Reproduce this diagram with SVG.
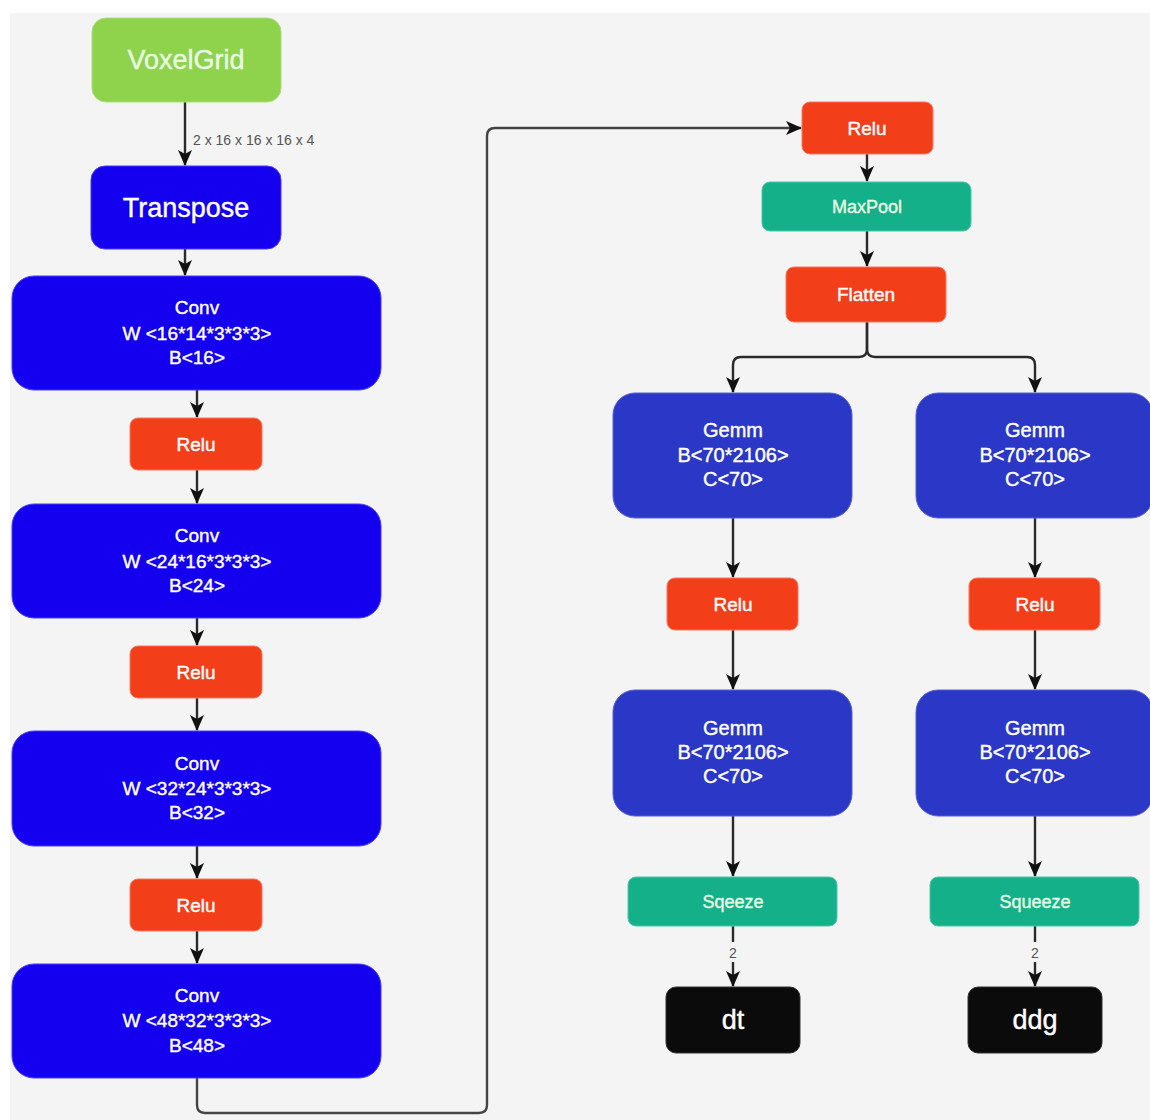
<svg xmlns="http://www.w3.org/2000/svg" width="1150" height="1120" viewBox="0 0 1150 1120">
<defs>
<marker id="arr" viewBox="0 0 16 16" refX="15" refY="8" markerWidth="16" markerHeight="16" markerUnits="userSpaceOnUse" orient="auto">
<path d="M0,1 L16,8 L0,15 L4,8 Z" fill="#111"/>
</marker>
<style>
.bg{fill:#f4f4f4}
.edge{fill:none;stroke:#2a2a2a;stroke-width:2.4;marker-end:url(#arr)}
.t{font-family:"Liberation Sans",Arial,sans-serif;fill:#fff;stroke:#fff;stroke-width:0.4;text-anchor:middle}
.big{font-size:27px}
.mid{font-size:19px}
.green{fill:#8fd24c;stroke:#a9e07a;stroke-width:1}
.blue{fill:#1400ef;stroke:#4a3cf5;stroke-width:1}
.gemm{fill:#2b37c6;stroke:#5560d6;stroke-width:1}
.red{fill:#f23e19;stroke:#f7775e;stroke-width:1}
.teal{fill:#13b08a;stroke:#4fc7a8;stroke-width:1}
.black{fill:#0b0b0b;stroke:#333;stroke-width:1}
.pale{fill:#e9fbe3;stroke:#e9fbe3}
.lbl{font-family:"Liberation Sans",Arial,sans-serif;font-size:14px;fill:#555}
</style>
</defs>
<rect width="1150" height="1120" fill="#ffffff"/>
<rect class="bg" x="10" y="13" width="1140" height="1107"/>

<g id="connectors">
<path class="edge" d="M185,102 V165"/>
<text class="lbl" x="193" y="145">2 x 16 x 16 x 16 x 4</text>
<path class="edge" d="M185,249 V275"/>
<path class="edge" d="M197,390 V417"/>
<path class="edge" d="M197,470 V503"/>
<path class="edge" d="M197,618 V645"/>
<path class="edge" d="M197,698 V730"/>
<path class="edge" d="M197,846 V878"/>
<path class="edge" d="M197,931 V963"/>
<path class="edge" style="stroke:#444" d="M197,1078 V1105 Q197,1113 205,1113 H479 Q487,1113 487,1105 V136 Q487,128 495,128 H801"/>
<path class="edge" d="M867,154 V181"/>
<path class="edge" d="M867,231 V266"/>
<path class="edge" d="M867,322 V349 Q867,357 859,357 H741 Q733,357 733,365 V392"/>
<path class="edge" d="M867,322 V349 Q867,357 875,357 H1027 Q1035,357 1035,365 V392"/>
<path class="edge" d="M733,518 V577"/>
<path class="edge" d="M1035,518 V577"/>
<path class="edge" d="M733,630 V689"/>
<path class="edge" d="M1035,630 V689"/>
<path class="edge" d="M733,816 V876"/>
<path class="edge" d="M1035,816 V876"/>
<path class="edge" d="M733,926 V986"/>
<path class="edge" d="M1035,926 V986"/>
<rect x="726" y="942" width="14" height="20" fill="#f4f4f4"/>
<rect x="1028" y="942" width="14" height="20" fill="#f4f4f4"/>
<text class="lbl" x="733" y="958" text-anchor="middle">2</text>
<text class="lbl" x="1035" y="958" text-anchor="middle">2</text>
</g>

<g id="voxelgrid"><rect class="green" x="92" y="18" width="189" height="84" rx="14"/><text class="t big pale" x="186" y="69">VoxelGrid</text></g>
<g id="transpose"><rect class="blue" x="91" y="166" width="190" height="83" rx="14"/><text class="t big" x="186" y="217">Transpose</text></g>

<g id="conv1"><rect class="blue" x="12" y="276" width="369" height="114" rx="22"/>
<text class="t mid" x="197" y="314">Conv</text><text class="t mid" x="197" y="340">W &lt;16*14*3*3*3&gt;</text><text class="t mid" x="197" y="364">B&lt;16&gt;</text></g>
<g id="relu1"><rect class="red" x="130" y="418" width="132" height="52" rx="8"/><text class="t mid" x="196" y="451">Relu</text></g>

<g id="conv2"><rect class="blue" x="12" y="504" width="369" height="114" rx="22"/>
<text class="t mid" x="197" y="542">Conv</text><text class="t mid" x="197" y="568">W &lt;24*16*3*3*3&gt;</text><text class="t mid" x="197" y="592">B&lt;24&gt;</text></g>
<g id="relu2"><rect class="red" x="130" y="646" width="132" height="52" rx="8"/><text class="t mid" x="196" y="679">Relu</text></g>

<g id="conv3"><rect class="blue" x="12" y="731" width="369" height="115" rx="22"/>
<text class="t mid" x="197" y="770">Conv</text><text class="t mid" x="197" y="795">W &lt;32*24*3*3*3&gt;</text><text class="t mid" x="197" y="819">B&lt;32&gt;</text></g>
<g id="relu3"><rect class="red" x="130" y="879" width="132" height="52" rx="8"/><text class="t mid" x="196" y="912">Relu</text></g>

<g id="conv4"><rect class="blue" x="12" y="964" width="369" height="114" rx="22"/>
<text class="t mid" x="197" y="1002">Conv</text><text class="t mid" x="197" y="1027">W &lt;48*32*3*3*3&gt;</text><text class="t mid" x="197" y="1052">B&lt;48&gt;</text></g>

<g id="relu4"><rect class="red" x="802" y="102" width="131" height="52" rx="8"/><text class="t mid" x="867" y="135">Relu</text></g>
<g id="maxpool"><rect class="teal" x="762" y="182" width="209" height="49" rx="8"/><text class="t mid pale" x="867" y="213" style="font-size:18px">MaxPool</text></g>
<g id="flatten"><rect class="red" x="786" y="267" width="160" height="55" rx="8"/><text class="t mid" x="866" y="301">Flatten</text></g>

<g id="gemm1l"><rect class="gemm" x="613" y="393" width="239" height="125" rx="22"/>
<text class="t mid" x="733" y="437" style="font-size:20px">Gemm</text><text class="t mid" x="733" y="462" style="font-size:20px">B&lt;70*2106&gt;</text><text class="t mid" x="733" y="486" style="font-size:20px">C&lt;70&gt;</text></g>
<g id="gemm1r"><rect class="gemm" x="916" y="393" width="237" height="125" rx="22"/>
<text class="t mid" x="1035" y="437" style="font-size:20px">Gemm</text><text class="t mid" x="1035" y="462" style="font-size:20px">B&lt;70*2106&gt;</text><text class="t mid" x="1035" y="486" style="font-size:20px">C&lt;70&gt;</text></g>

<g id="relul"><rect class="red" x="667" y="578" width="131" height="52" rx="8"/><text class="t mid" x="733" y="611">Relu</text></g>
<g id="relur"><rect class="red" x="969" y="578" width="131" height="52" rx="8"/><text class="t mid" x="1035" y="611">Relu</text></g>

<g id="gemm2l"><rect class="gemm" x="613" y="690" width="239" height="126" rx="22"/>
<text class="t mid" x="733" y="735" style="font-size:20px">Gemm</text><text class="t mid" x="733" y="759" style="font-size:20px">B&lt;70*2106&gt;</text><text class="t mid" x="733" y="783" style="font-size:20px">C&lt;70&gt;</text></g>
<g id="gemm2r"><rect class="gemm" x="916" y="690" width="237" height="126" rx="22"/>
<text class="t mid" x="1035" y="735" style="font-size:20px">Gemm</text><text class="t mid" x="1035" y="759" style="font-size:20px">B&lt;70*2106&gt;</text><text class="t mid" x="1035" y="783" style="font-size:20px">C&lt;70&gt;</text></g>

<g id="sqeeze"><rect class="teal" x="628" y="877" width="209" height="49" rx="8"/><text class="t mid pale" x="733" y="908" style="font-size:18px">Sqeeze</text></g>
<g id="squeeze"><rect class="teal" x="930" y="877" width="209" height="49" rx="8"/><text class="t mid pale" x="1035" y="908" style="font-size:18px">Squeeze</text></g>

<g id="dt"><rect class="black" x="666" y="987" width="134" height="66" rx="10"/><text class="t big" x="733" y="1029">dt</text></g>
<g id="ddg"><rect class="black" x="968" y="987" width="134" height="66" rx="10"/><text class="t big" x="1035" y="1029">ddg</text></g>
</svg>
